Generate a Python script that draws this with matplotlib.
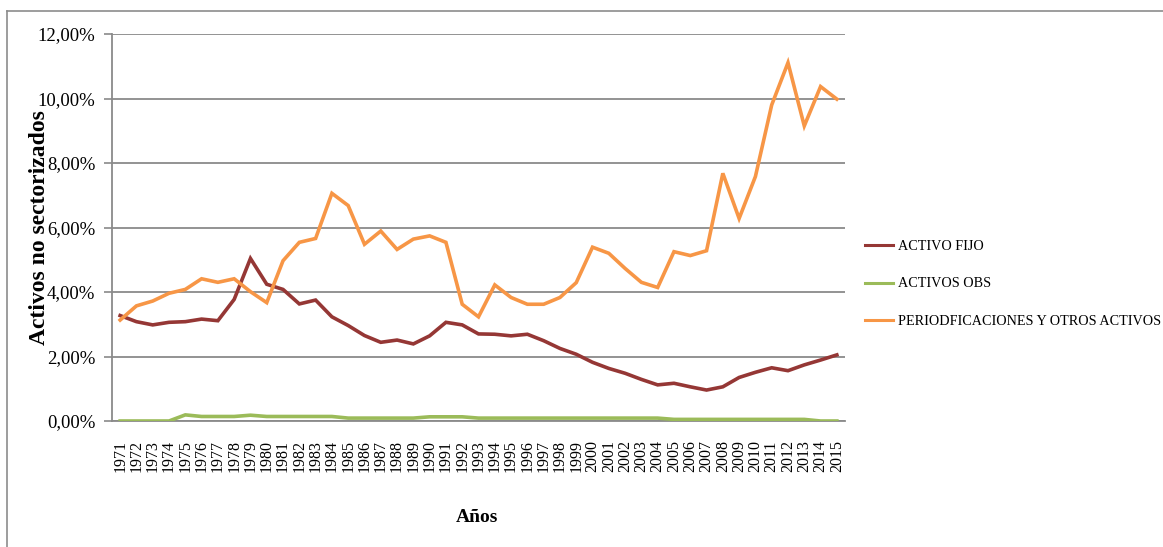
import matplotlib
matplotlib.use("Agg")
import matplotlib.pyplot as plt
from matplotlib.lines import Line2D
from matplotlib.ticker import FuncFormatter

years = list(range(1971, 2016))

activo_fijo = [3.27, 3.08, 2.98, 3.06, 3.08, 3.16, 3.11, 3.77, 5.04, 4.24,
               4.08, 3.63, 3.75, 3.23, 2.96, 2.65, 2.44, 2.51, 2.39, 2.64,
               3.06, 2.98, 2.70, 2.69, 2.64, 2.69, 2.49, 2.25, 2.07, 1.82,
               1.63, 1.48, 1.29, 1.12, 1.17, 1.06, 0.96, 1.06, 1.35, 1.51,
               1.65, 1.56, 1.74, 1.89, 2.05]

activos_obs = [0.00, 0.00, 0.00, 0.00, 0.19, 0.14, 0.14, 0.14, 0.18, 0.14,
               0.14, 0.14, 0.14, 0.14, 0.09, 0.09, 0.09, 0.09, 0.09, 0.13,
               0.13, 0.13, 0.09, 0.09, 0.09, 0.09, 0.09, 0.09, 0.09, 0.09,
               0.09, 0.09, 0.09, 0.09, 0.05, 0.05, 0.05, 0.05, 0.05, 0.05,
               0.05, 0.05, 0.05, 0.00, 0.00]

periodificaciones = [3.13, 3.57, 3.72, 3.96, 4.08, 4.41, 4.30, 4.41, 4.01, 3.67,
                     4.97, 5.54, 5.66, 7.06, 6.68, 5.48, 5.89, 5.32, 5.64, 5.74,
                     5.54, 3.62, 3.23, 4.22, 3.83, 3.62, 3.62, 3.83, 4.29, 5.39,
                     5.20, 4.73, 4.30, 4.14, 5.25, 5.13, 5.28, 7.68, 6.28, 7.58,
                     9.80, 11.11, 9.15, 10.37, 9.98]

series_names = ["ACTIVO FIJO", "ACTIVOS OBS", "PERIODFICACIONES Y OTROS ACTIVOS"]
series_colors = ["#953735", "#9BBB59", "#F79646"]

serif = ["Liberation Serif", "DejaVu Serif"]
plt.rcParams["font.family"] = serif

W, H = 1163, 547
fig = plt.figure(figsize=(W / 100, H / 100), dpi=100)
ax = fig.add_axes([112 / W, 1 - 421 / H, (845 - 112) / W, (421 - 34) / H])

x = list(range(len(years)))
for vals, name, col in zip([activo_fijo, activos_obs, periodificaciones],
                           series_names, series_colors):
    ax.plot(x, vals, color=col, lw=2.6, label=name, solid_joinstyle="miter",
            zorder=3)

ax.set_xlim(-0.5, len(years) - 0.5)
ax.set_ylim(0, 12)
ax.set_yticks([0, 2, 4, 6, 8, 10, 12])
ax.yaxis.set_major_formatter(FuncFormatter(lambda v, p: f"{v:.2f}%".replace(".", ",")))
ax.set_xticks(x)
ax.set_xticklabels([str(y) for y in years], rotation=90, fontsize=11.5)

grid_col = "#8a8a8a"
ax.yaxis.grid(True, color=grid_col, lw=1.3)
ax.set_axisbelow(True)
for s in ["top", "right"]:
    ax.spines[s].set_visible(False)
for s in ["left", "bottom"]:
    ax.spines[s].set_color(grid_col)
    ax.spines[s].set_linewidth(1.3)
ax.tick_params(axis="y", length=6, color=grid_col, width=1.2, labelsize=13.5, pad=6)
ax.tick_params(axis="x", length=0, pad=14)

ax.set_ylabel("Activos no sectorizados", fontsize=17, fontweight="bold")
ax.yaxis.set_label_coords(-0.084, 0.5)
fig.text(477 / W, 1 - 517 / H, "Años", fontsize=14, fontweight="bold",
         ha="center", va="center")

handles = [Line2D([], [], color=c, lw=2.2) for c in series_colors]
fig.legend(handles, series_names, loc="center left",
           bbox_to_anchor=(865 / W, 1 - 284 / H), frameon=False,
           fontsize=10.2, handlelength=2.0, handletextpad=0.3,
           labelspacing=1.75, borderpad=0, borderaxespad=0)

# chart frame
fig.add_artist(Line2D([7 / W, 1.0], [1 - 11 / H, 1 - 11 / H], color="#8c8c8c", lw=1.2))
fig.add_artist(Line2D([7 / W, 7 / W], [0.0, 1 - 11 / H], color="#8c8c8c", lw=1.2))

fig.savefig("out.png", dpi=100)
